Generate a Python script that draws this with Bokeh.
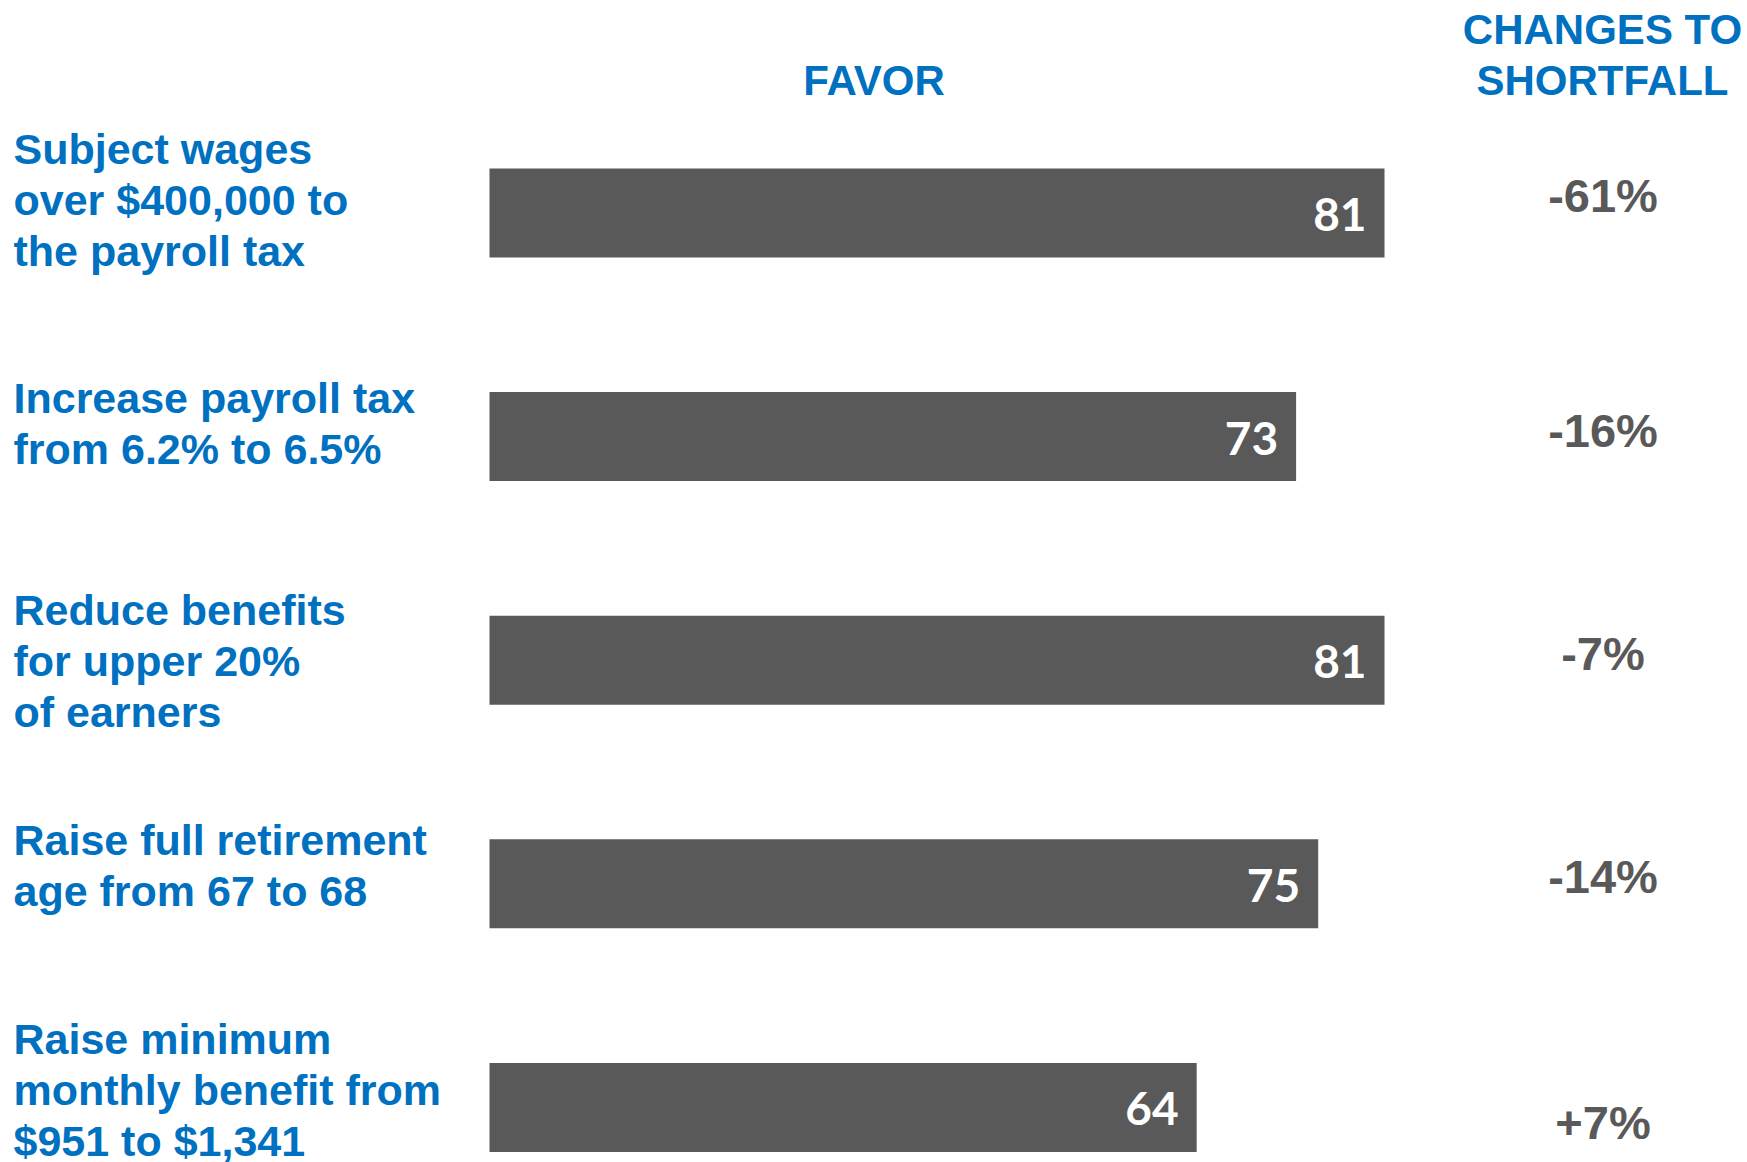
from bokeh.plotting import figure
from bokeh.models import Range1d, ColumnDataSource
from bokeh.core.properties import value
from bokeh.embed import file_html
from bokeh.resources import INLINE

# ---------------- data ----------------
proposals = [
    "Subject wages\nover $400,000 to\nthe payroll tax",
    "Increase payroll tax\nfrom 6.2% to 6.5%",
    "Reduce benefits\nfor upper 20%\nof earners",
    "Raise full retirement\nage from 67 to 68",
    "Raise minimum\nmonthly benefit from\n$951 to $1,341",
]
favor = [81, 73, 81, 75, 64]
shortfall_change = ["-61%", "-16%", "-7%", "-14%", "+7%"]
header_favor = "FAVOR"
header_change = ["CHANGES TO", "SHORTFALL"]

# ---------------- layout ----------------
W, H = 1747, 1162
BAR_X0 = 489.0            # pixel of value 0
PPU = (1384.0 - 489.0) / 81.0   # pixels per percentage point
ROW0 = 212.5              # pixel centre of the first row
ROW_STEP = 223.6          # pixel distance between rows
BAR_PX = 89.0
TXT_FIX = -17.0           # baseline correction of the renderer (px)

BLUE = "#0070C0"
GREY = "#595959"
LABEL_FONT = value("Liberation Sans")
NUM_FONT = value("Lato")

label_first_baseline = [-46.8, -21.2, -33.1, -26.7, -51.0]   # px from row centre
label_line_step = 50.7
change_baseline = [-0.8, 10.6, 10.2, 9.3, 32.3]             # px from row centre


def dx(px):
    return (px - BAR_X0) / PPU


def dy(py):
    return (py - ROW0) / ROW_STEP


p = figure(
    width=W, height=H,
    x_range=Range1d(dx(0), dx(W)),
    y_range=Range1d(dy(H), dy(0)),
    x_axis_location=None, y_axis_location=None,
    toolbar_location=None, output_backend="svg",
    min_border=0,
)
p.grid.visible = False
p.outline_line_color = None
p.background_fill_color = "white"
p.border_fill_color = "white"

rows = list(range(len(favor)))

# bars
src = ColumnDataSource(dict(y=rows, right=favor, txt=[str(v) for v in favor]))
p.hbar(y="y", left=0, right="right", height=BAR_PX / ROW_STEP, source=src,
       fill_color=GREY, line_color=None)

# value labels inside bars
p.text(x="right", y="y", text="txt", source=src, x_offset=-18, y_offset=18.5 + TXT_FIX,
       text_align="right", text_baseline="alphabetic",
       text_font=NUM_FONT, text_font_style="bold", text_font_size="46px",
       text_color="white")

# category labels (one glyph per line)
lx, ly, lt = [], [], []
for i, lab in enumerate(proposals):
    for k, line in enumerate(lab.split("\n")):
        lx.append(0)
        ly.append(i + (label_first_baseline[i] + k * label_line_step + TXT_FIX) / ROW_STEP)
        lt.append(line)
p.text(x=lx, y=ly, text=lt, x_offset=13 - BAR_X0,
       text_align="left", text_baseline="alphabetic",
       text_font=LABEL_FONT, text_font_style="bold", text_font_size="43px",
       text_color=BLUE)

# changes-to-shortfall column
cy = [i + (change_baseline[i] + TXT_FIX) / ROW_STEP for i in rows]
p.text(x=[dx(1602.5)] * len(rows), y=cy, text=shortfall_change,
       text_align="center", text_baseline="alphabetic",
       text_font=LABEL_FONT, text_font_style="bold", text_font_size="47px",
       text_color=GREY)

# headers
p.text(x=[dx(873.5)], y=[dy(97 + TXT_FIX)], text=[header_favor],
       text_align="center", text_baseline="alphabetic",
       text_font=LABEL_FONT, text_font_style="bold", text_font_size="42px",
       text_color=BLUE)
p.text(x=[dx(1602.0)] * 2, y=[dy(46 + TXT_FIX), dy(97 + TXT_FIX)], text=header_change,
       text_align="center", text_baseline="alphabetic",
       text_font=LABEL_FONT, text_font_style="bold", text_font_size="42px",
       text_color=BLUE)

open("out.html", "w").write(file_html(p, INLINE))
